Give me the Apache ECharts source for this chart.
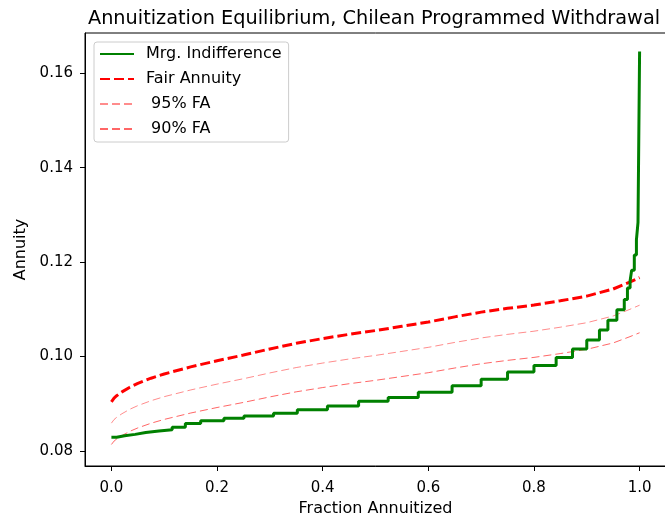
<!DOCTYPE html>
<html>
<head>
<meta charset="utf-8">
<script src="https://cdn.jsdelivr.net/npm/echarts@6/dist/echarts.min.js"></script>
<style>html,body{margin:0;padding:0;background:#fff}#c{width:665px;height:515px}</style>
</head>
<body>
<div id="c"></div>
<script>
// Marginal indifference (step function): step start x and level
var indX = [0.000, 0.010, 0.025, 0.045, 0.065, 0.090, 0.115, 0.140, 0.169, 0.213, 0.251, 0.307, 0.352, 0.409, 0.468, 0.524, 0.581, 0.645, 0.700, 0.750, 0.800, 0.842, 0.873, 0.900, 0.924, 0.940, 0.957, 0.971, 0.977, 0.982, 0.985, 0.990, 0.994, 0.997, 1.000];
var indY = [0.0829, 0.0832, 0.0835, 0.0839, 0.0842, 0.0845, 0.0850, 0.0858, 0.0864, 0.0869, 0.0874, 0.0880, 0.0887, 0.0895, 0.0905, 0.0913, 0.0924, 0.0938, 0.0952, 0.0967, 0.0981, 0.0998, 0.1016, 0.1035, 0.1056, 0.1077, 0.1099, 0.1121, 0.1145, 0.1160, 0.1183, 0.1215, 0.1247, 0.1284, 0.1646];

// Fair annuity curves
var faX = [0, 0.005, 0.01, 0.02, 0.035, 0.05, 0.075, 0.1, 0.15, 0.2, 0.25, 0.3, 0.35, 0.4, 0.45, 0.5, 0.55, 0.6, 0.65, 0.7, 0.75, 0.8, 0.85, 0.9, 0.95, 0.98, 1.0];
var faY = [0.0904, 0.0912, 0.0917, 0.0925, 0.0935, 0.0943, 0.0954, 0.0963, 0.0978, 0.0991, 0.1003, 0.1016, 0.1028, 0.1038, 0.1047, 0.1055, 0.1064, 0.1073, 0.1084, 0.1094, 0.1102, 0.1109, 0.1118, 0.1128, 0.1143, 0.1157, 0.1167];
var fa95Y = [0.08588, 0.08664, 0.08712, 0.08788, 0.08883, 0.08959, 0.09063, 0.09149, 0.09291, 0.09415, 0.09529, 0.09652, 0.09766, 0.09861, 0.09947, 0.10023, 0.10108, 0.10194, 0.10298, 0.10393, 0.10469, 0.10536, 0.10621, 0.10716, 0.10859, 0.10992, 0.11087];
var fa90Y = [0.08136, 0.08208, 0.08253, 0.08325, 0.08415, 0.08487, 0.08586, 0.08667, 0.08802, 0.08919, 0.09027, 0.09144, 0.09252, 0.09342, 0.09423, 0.09495, 0.09576, 0.09657, 0.09756, 0.09846, 0.09918, 0.09981, 0.10062, 0.10152, 0.10287, 0.10413, 0.10503];

var xTicks = [0.0, 0.2, 0.4, 0.6, 0.8, 1.0];
var yTicks = [0.08, 0.10, 0.12, 0.14, 0.16];

var seriesNames = ['Mrg. Indifference', 'Fair Annuity', ' 95% FA', ' 90% FA'];
var titleText = 'Annuitization Equilibrium, Chilean Programmed Withdrawal';

function pairs(xs, ys) { return xs.map(function (x, i) { return [x, ys[i]]; }); }

var FONT = 'DejaVu Sans';
var chart = echarts.init(document.getElementById('c'), null, { renderer: 'canvas' });
chart.setOption({
  animation: false,
  backgroundColor: '#fff',
  textStyle: { fontFamily: FONT },
  title: {
    text: titleText,
    left: 369, top: 4, textAlign: 'center',
    textStyle: { fontFamily: FONT, fontSize: 19.3, fontWeight: 'normal', color: '#000' }
  },
  grid: { left: 85, top: 33, width: 581, height: 433, outerBoundsMode: 'none', containLabel: false,
          show: true, borderColor: '#000', borderWidth: 1, backgroundColor: 'transparent' },
  legend: {
    orient: 'vertical', left: 94, top: 42,
    padding: [4, 7, 5, 5], itemGap: 9, itemWidth: 34, itemHeight: 14,
    backgroundColor: '#fff', borderColor: '#cccccc', borderWidth: 1, borderRadius: 3,
    itemStyle: { opacity: 0 },
    textStyle: { fontFamily: FONT, fontSize: 16, color: '#000', padding: [0, 0, 0, 7] },
    data: seriesNames
  },
  xAxis: {
    type: 'value', min: -0.05, max: 1.05,
    name: 'Fraction Annuitized', nameLocation: 'middle', nameGap: 33,
    nameTextStyle: { fontFamily: FONT, fontSize: 16, color: '#000' },
    axisLine: { show: true, onZero: false, lineStyle: { color: '#000', width: 1 } },
    axisTick: { show: true, inside: false, length: 5, lineStyle: { color: '#000' }, customValues: xTicks },
    axisLabel: { margin: 15, fontFamily: FONT, fontSize: 15, color: '#000', customValues: xTicks, formatter: function (v) { return v.toFixed(1); } },
    splitLine: { show: false }
  },
  yAxis: {
    type: 'value', min: 0.0768, max: 0.16854,
    name: 'Annuity', nameLocation: 'middle', nameGap: 51, nameRotate: 90,
    nameTextStyle: { fontFamily: FONT, fontSize: 16, color: '#000' },
    axisLine: { show: true, onZero: false, lineStyle: { color: '#000', width: 1 } },
    axisTick: { show: true, inside: false, length: 5, lineStyle: { color: '#000' }, customValues: yTicks },
    axisLabel: { margin: 12, fontFamily: FONT, fontSize: 15, color: '#000', customValues: yTicks, formatter: function (v) { return v.toFixed(2); } },
    splitLine: { show: false }
  },
  series: [
    { name: seriesNames[0], type: 'line', step: 'end', showSymbol: false, symbol: 'none', data: pairs(indX, indY),
      lineStyle: { color: '#008000', width: 3 }, itemStyle: { color: '#008000' }, z: 5 },
    { name: seriesNames[1], type: 'line', smooth: false, showSymbol: false, symbol: 'none', data: pairs(faX, faY),
      lineStyle: { color: '#ff0000', width: 3, type: [10, 4] }, itemStyle: { color: '#ff0000' }, z: 4 },
    { name: seriesNames[2], type: 'line', showSymbol: false, symbol: 'none', data: pairs(faX, fa95Y),
      lineStyle: { color: 'rgba(255,0,0,0.45)', width: 1, type: [8, 4] }, itemStyle: { color: 'rgba(255,0,0,0.45)' }, z: 3 },
    { name: seriesNames[3], type: 'line', showSymbol: false, symbol: 'none', data: pairs(faX, fa90Y),
      lineStyle: { color: 'rgba(255,0,0,0.6)', width: 1, type: [8, 4] }, itemStyle: { color: 'rgba(255,0,0,0.6)' }, z: 3 }
  ]
});
</script>
</body>
</html>
